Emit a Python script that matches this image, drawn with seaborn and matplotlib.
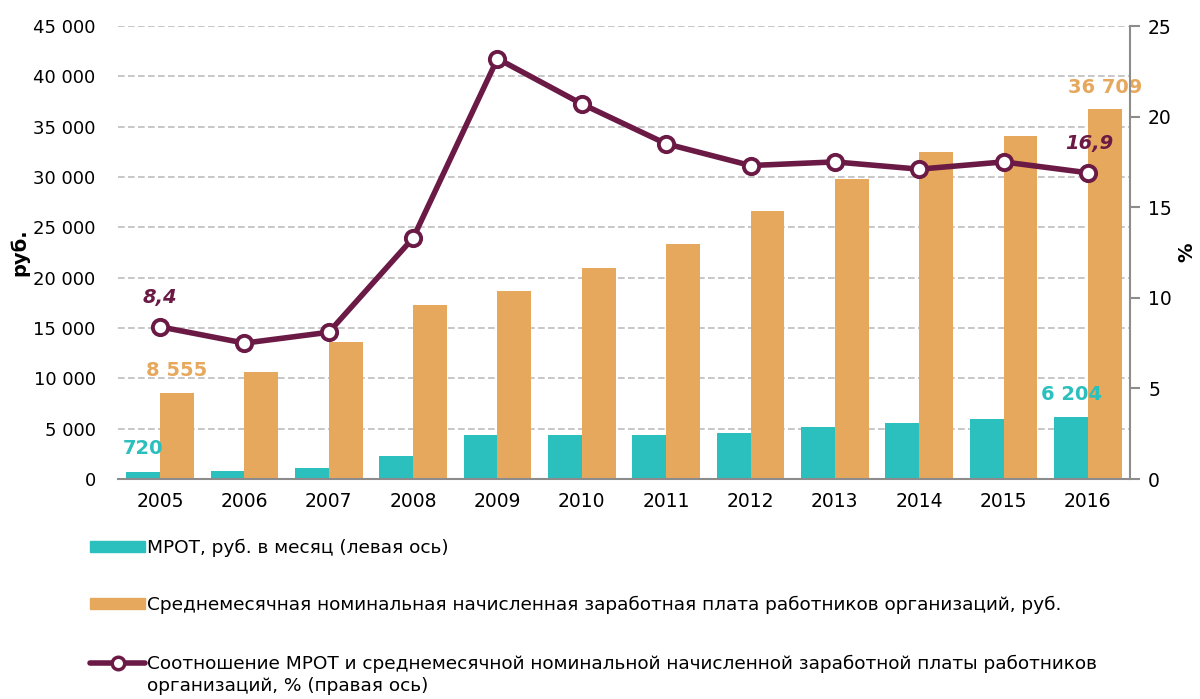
import numpy as np
import pandas as pd
import matplotlib
matplotlib.use("Agg")
import matplotlib.pyplot as plt
from matplotlib.ticker import FuncFormatter, FixedLocator
from matplotlib.lines import Line2D
from matplotlib.patches import Patch
import seaborn as sns

# data
years = ["2005", "2006", "2007", "2008", "2009", "2010",
         "2011", "2012", "2013", "2014", "2015", "2016"]
mrot = [720, 800, 1100, 2300, 4330, 4330, 4330, 4611, 5205, 5554, 5965, 6204]
wage = [8555, 10634, 13593, 17290, 18638, 20952,
        23369, 26629, 29792, 32495, 34030, 36709]
ratio = [8.4, 7.5, 8.1, 13.3, 23.2, 20.7, 18.5, 17.3, 17.5, 17.1, 17.5, 16.9]

lbl_mrot = "МРОТ, руб. в месяц (левая ось)"
lbl_wage = "Среднемесячная номинальная начисленная заработная плата работников организаций, руб."
lbl_ratio1 = "Соотношение МРОТ и среднемесячной номинальной начисленной заработной платы работников"
lbl_ratio2 = "организаций, % (правая ось)"

teal = "#2BBFBD"
orange = "#E6A85C"
maroon = "#6B1A45"
grey = "#8C8C8C"

sns.set_style("white")
plt.rcParams["font.family"] = ["DejaVu Sans"]
plt.rcParams.update({"text.color": "black", "axes.labelcolor": "black",
                     "xtick.color": "black", "ytick.color": "black"})

df = pd.DataFrame({
    "year": years * 2,
    "value": mrot + wage,
    "series": [lbl_mrot] * len(years) + [lbl_wage] * len(years),
})

fig = plt.figure(figsize=(12, 6.99), dpi=100)
ax = fig.add_axes([0.0983, 0.3147, 0.8434, 0.6481])

sns.barplot(data=df, x="year", y="value", hue="series", order=years,
            palette=[teal, orange], width=0.8, saturation=1, linewidth=0,
            ax=ax, legend=False)

ax.set_ylim(0, 45000)
ax.set_xlim(-0.5, len(years) - 0.5)
ax.set_yticks(np.arange(0, 45001, 5000))
ax.yaxis.set_major_formatter(FuncFormatter(lambda v, p: f"{int(v):,}".replace(",", " ")))
ax.grid(axis="y", color="#BDBDBD", linestyle=(0, (4, 2)), linewidth=1.2)
ax.set_axisbelow(True)
ax.set_xlabel("")
ax.set_ylabel("руб.", fontsize=14, fontweight="bold")
ax.yaxis.set_label_coords(-0.088, 0.5)

for s in ["top", "left", "right"]:
    ax.spines[s].set_visible(False)
ax.spines["bottom"].set_color(grey)
ax.spines["bottom"].set_linewidth(1.5)
ax.tick_params(axis="x", which="major", length=0, labelsize=13.5, pad=9)
ax.tick_params(axis="y", length=0, labelsize=13, pad=16)
ax.xaxis.set_minor_locator(FixedLocator(np.arange(-0.5, len(years), 1.0)))
ax.tick_params(axis="x", which="minor", length=7, width=1.5, color=grey)

ax2 = ax.twinx()
sns.lineplot(x=np.arange(len(years)), y=ratio, ax=ax2, color=maroon, linewidth=4,
             marker="o", markersize=11, markerfacecolor="white",
             markeredgecolor=maroon, markeredgewidth=2.8)
ax2.set_ylim(0, 25)
ax2.set_yticks(np.arange(0, 26, 5))
ax2.set_xlim(-0.5, len(years) - 0.5)
for s in ["top", "left", "bottom"]:
    ax2.spines[s].set_visible(False)
ax2.spines["right"].set_color(grey)
ax2.spines["right"].set_linewidth(1.5)
ax2.tick_params(axis="y", length=7, width=1.5, color=grey, labelsize=13.5, pad=6)
ax2.set_ylabel("%", fontsize=14, fontweight="bold")
ax2.yaxis.set_label_coords(1.047, 0.5)

# value labels
lab = dict(textcoords="offset points", ha="center", va="center",
           fontsize=14, fontweight="bold")
ax2.annotate("8,4", (0, ratio[0]), xytext=(0, 21), color=maroon,
             fontstyle="italic", **lab)
ax2.annotate("16,9", (11, ratio[-1]), xytext=(1, 21), color=maroon,
             fontstyle="italic", **lab)
ax.annotate("720", (-0.2, mrot[0]), xytext=(0, 17), color=teal, **lab)
ax.annotate("8 555", (0.2, wage[0]), xytext=(0, 16), color=orange, **lab)
ax.annotate("6 204", (10.8, mrot[-1]), xytext=(0, 16), color=teal, **lab)
ax.annotate("36 709", (11.2, wage[-1]), xytext=(0, 16), color=orange, **lab)

# legend
leg_kw = dict(loc="center left", frameon=False, fontsize=13.3, handlelength=3.0,
              handleheight=0.6, handletextpad=0.1, borderpad=0, borderaxespad=0)
l1 = fig.legend([Patch(color=teal)], [lbl_mrot],
                bbox_to_anchor=(0.075, 1 - 548 / 699), **leg_kw)
l2 = fig.legend([Patch(color=orange)], [lbl_wage],
                bbox_to_anchor=(0.075, 1 - 605 / 699), **leg_kw)
line_h = Line2D([], [], color=maroon, linewidth=4, marker="o", markersize=9,
                markerfacecolor="white", markeredgecolor=maroon, markeredgewidth=2.5)
blank_h = Line2D([], [], color="none")
l3 = fig.legend([line_h, blank_h], [lbl_ratio1, lbl_ratio2],
                labelspacing=0.25, bbox_to_anchor=(0.075, 1 - 675 / 699), **leg_kw)

fig.savefig("out.png", dpi=100)
